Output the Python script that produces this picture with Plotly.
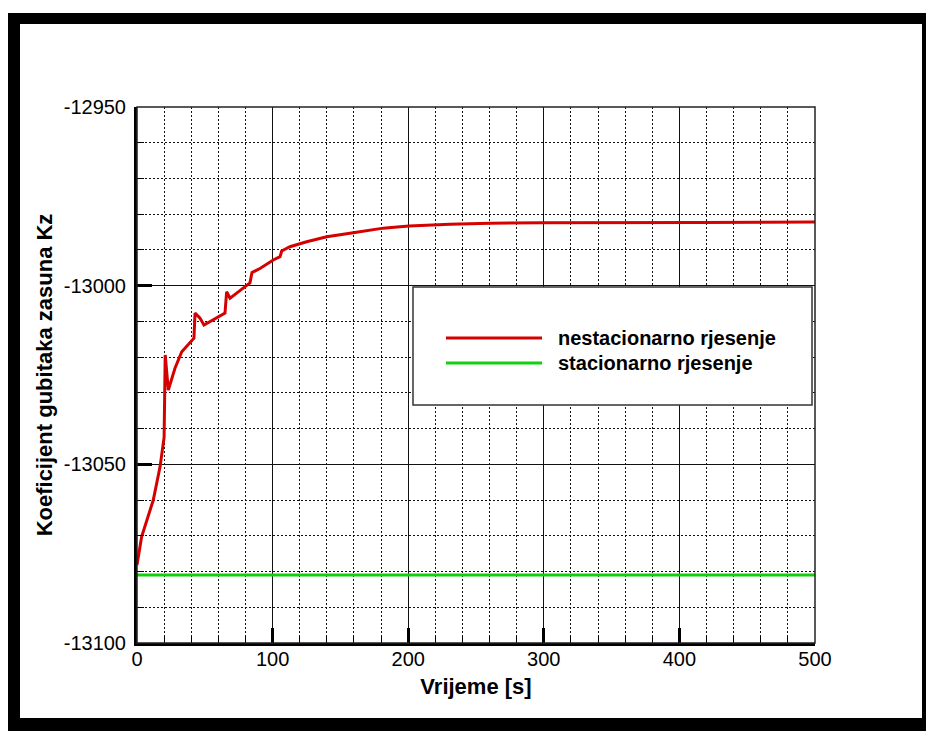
import plotly.graph_objects as go

# ---------------- data ----------------
time_s = [0, 3.4, 12, 17, 20, 20.6, 20.8, 23.1, 28, 33, 37.8, 42, 42.8, 46.5, 49.4, 53.8,
          59.2, 64.9, 66.1, 68.6, 73.5, 79.6, 80.9, 83.3, 84.8, 90.7, 100.5, 105.5,
          106.7, 112.8, 125.1, 139.9, 159.5, 181.6, 194, 200.6, 230.8, 260.3, 299.4,
          341.5, 415.2, 500]
kz_unsteady = [-13078.2, -13070.3, -13060.0, -13050.7, -13042.4, -13032.0, -13019.4,
               -13029.2, -13023.1, -13018.5, -13016.3, -13014.7, -13007.7, -13009.1,
               -13011.0, -13010.1, -13009.1, -13007.7, -13001.7, -13003.5, -13002.1,
               -13000.3, -12999.8, -12999.2, -12996.3, -12995.2, -12992.8, -12991.9,
               -12990.3, -12989.1, -12987.7, -12986.3, -12985.2, -12983.9, -12983.5,
               -12983.3, -12982.8, -12982.5, -12982.4, -12982.3, -12982.3, -12982.2]
time_steady = [0, 500]
kz_steady = [-13081.0, -13081.0]

series_names = ["nestacionarno rjesenje", "stacionarno rjesenje"]
x_tickvals = [0, 100, 200, 300, 400, 500]
x_ticktext = ["0", "100", "200", "300", "400", "500"]
y_tickvals = [-13100, -13050, -13000, -12950]
y_ticktext = ["-13100", "-13050", "-13000", "-12950"]

# ---------------- layout geometry (screen pixels) ----------------
W, H = 926, 731
L, R, T, B = 137, 815, 107, 643  # plot area in screen pixels


def pxx(p):
    return (p - L) / (R - L)


def pxy(p):
    return (B - p) / (B - T)


FONT = "Liberation Sans, Arial, Helvetica, sans-serif"
RED = "#d50000"
GREEN = "#10d010"

fig = go.Figure()
fig.add_trace(go.Scatter(x=time_s, y=kz_unsteady, mode="lines", name=series_names[0],
                         line=dict(color=RED, width=3), showlegend=False))
fig.add_trace(go.Scatter(x=time_steady, y=kz_steady, mode="lines", name=series_names[1],
                         line=dict(color=GREEN, width=3), showlegend=False))

shapes = [
    # outer frame (black) and inner white sheet
    dict(type="rect", xref="paper", yref="paper", x0=pxx(8), x1=pxx(960), y0=pxy(13), y1=pxy(760),
         fillcolor="black", line=dict(width=0), layer="below"),
    dict(type="rect", xref="paper", yref="paper", x0=pxx(20), x1=pxx(922), y0=pxy(24), y1=pxy(718),
         fillcolor="white", line=dict(width=0), layer="below"),
    # plot border (top/right)
    dict(type="rect", xref="paper", yref="paper", x0=0, x1=1, y0=0, y1=1,
         line=dict(color="#222", width=1.5), layer="above"),
    # legend box
    dict(type="rect", xref="paper", yref="paper", x0=pxx(413), x1=pxx(812), y0=pxy(405), y1=pxy(287),
         fillcolor="white", line=dict(color="#333", width=1.5), layer="above"),
    dict(type="line", xref="paper", yref="paper", x0=pxx(446), x1=pxx(542), y0=pxy(338), y1=pxy(338),
         line=dict(color=RED, width=3), layer="above"),
    dict(type="line", xref="paper", yref="paper", x0=pxx(446), x1=pxx(542), y0=pxy(363), y1=pxy(363),
         line=dict(color=GREEN, width=3), layer="above"),
]

annotations = [
    dict(xref="paper", yref="paper", x=pxx(556), y=pxy(338), text=series_names[0],
         xanchor="left", yanchor="middle", showarrow=False,
         font=dict(family=FONT, size=20, color="black", weight="bold")),
    dict(xref="paper", yref="paper", x=pxx(556), y=pxy(363), text=series_names[1],
         xanchor="left", yanchor="middle", showarrow=False,
         font=dict(family=FONT, size=20, color="black", weight="bold")),
]

fig.update_layout(
    width=W, height=H,
    margin=dict(l=L, r=W - R, t=T, b=H - B, pad=0),
    paper_bgcolor="white", plot_bgcolor="white",
    shapes=shapes, annotations=annotations,
    showlegend=False,
    font=dict(family=FONT, size=20, color="black"),
)

fig.update_xaxes(
    range=[0, 500], tickvals=x_tickvals, ticktext=x_ticktext,
    showline=True, linecolor="black", linewidth=3,
    ticks="inside", ticklen=15, tickwidth=3, tickcolor="black",
    showgrid=True, gridcolor="#111", gridwidth=1,
    zeroline=False, ticklabelstandoff=-4,
    tickfont=dict(family=FONT, size=20, color="black"),
    minor=dict(dtick=20, tick0=0, ticks="inside", ticklen=7, tickwidth=1, tickcolor="black",
               showgrid=True, gridcolor="#111", gridwidth=1, griddash="2px,2px"),
    title=dict(text="Vrijeme [s]", standoff=10,
               font=dict(family=FONT, size=22, color="black", weight="bold")),
)
fig.update_yaxes(
    range=[-13100, -12950], tickvals=y_tickvals, ticktext=y_ticktext,
    showline=True, linecolor="black", linewidth=3,
    ticks="inside", ticklen=15, tickwidth=3, tickcolor="black",
    showgrid=True, gridcolor="#111", gridwidth=1,
    zeroline=False, ticklabelstandoff=4,
    tickfont=dict(family=FONT, size=20, color="black"),
    minor=dict(dtick=10, tick0=-13100, ticks="inside", ticklen=7, tickwidth=1, tickcolor="black",
               showgrid=True, gridcolor="#111", gridwidth=1, griddash="2px,2px"),
    title=dict(text="Koeficijent gubitaka zasuna Kz", standoff=6,
               font=dict(family=FONT, size=22, color="black", weight="bold")),
)

fig.write_html(
    "out.html",
    config={"displayModeBar": False},
    post_script="document.body.style.margin='0';document.body.style.overflow='hidden';",
)
